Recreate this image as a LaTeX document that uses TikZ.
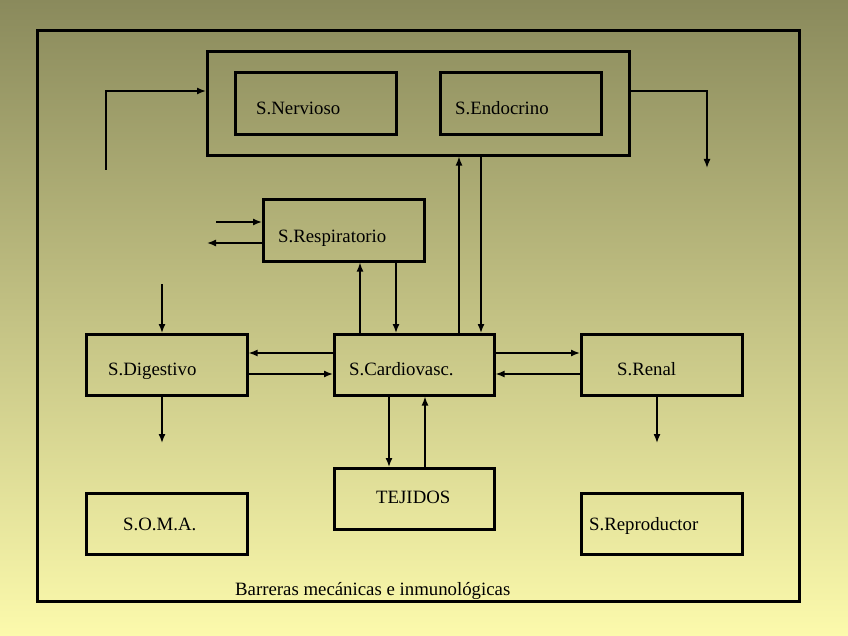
\documentclass[tikz,border=0pt]{standalone}
\usepackage{fontspec}
\setmainfont{Liberation Serif}
\usetikzlibrary{arrows.meta}
\definecolor{bgtop}{RGB}{138,138,92}
\definecolor{bgbot}{RGB}{252,250,172}
\begin{document}
\begin{tikzpicture}[x=1pt,y=-1pt,
  box/.style={draw, line width=2.6pt, inner sep=0pt, anchor=north west},
  lbl/.style={anchor=base west, inner sep=0pt, font=\fontsize{18.8}{22}\selectfont},
  conn/.style={line width=1.4pt, -{Latex[length=9pt,width=7pt]}},
  plainln/.style={line width=1.4pt}]
\shade[top color=bgtop, bottom color=bgbot] (0,0) rectangle (848,636);
\useasboundingbox (0,0) rectangle (848,636);
% boxes
\node[box, minimum width=762pt, minimum height=571pt] (frame) at (36,29) {};
\node[box, minimum width=422pt, minimum height=104pt] (top) at (206,50) {};
\node[box, minimum width=161pt, minimum height=62pt] (nerv) at (234,71) {};
\node[box, minimum width=161pt, minimum height=62pt] (endo) at (439,71) {};
\node[box, minimum width=161pt, minimum height=62pt] (resp) at (262,198) {};
\node[box, minimum width=161pt, minimum height=61pt] (dig) at (85,333) {};
\node[box, minimum width=160pt, minimum height=61pt] (card) at (333,333) {};
\node[box, minimum width=161pt, minimum height=61pt] (ren) at (580,333) {};
\node[box, minimum width=160pt, minimum height=61pt] (tej) at (333,467) {};
\node[box, minimum width=161pt, minimum height=61pt] (soma) at (85,492) {};
\node[box, minimum width=161pt, minimum height=61pt] (repr) at (580,492) {};
% labels
\node[lbl] (tnerv) at (256,115) {S.Nervioso};
\node[lbl] (tendo) at (455,115) {S.Endocrino};
\node[lbl] (tresp) at (278,243) {S.Respiratorio};
\node[lbl] (tdig) at (108,375) {S.Digestivo};
\node[lbl] (tcard) at (349,375) {S.Cardiovasc.};
\node[lbl] (tren) at (617,375) {S.Renal};
\node[lbl] (ttej) at (376,503) {TEJIDOS};
\node[lbl] (tsoma) at (123,530) {S.O.M.A.};
\node[lbl] (trepr) at (589,530) {S.Reproductor};
\node[lbl] (tbar) at (235,595) {Barreras mecánicas e inmunológicas};
% free ends
\coordinate (lfb) at (106,170);
\coordinate (rfb) at (707,168);
\coordinate (rin) at (216,222);
\coordinate (rout) at (207,243);
\coordinate (din) at (162,284);
\coordinate (dout) at (162,443);
\coordinate (renout) at (657,443);
% feedback loops
\draw[conn] (lfb) |- (top.west |- 0,91);
\draw[conn] (top.east |- 0,91) -| (rfb);
% respiratory exchange
\draw[conn] (rin) -- (resp.west |- rin);
\draw[conn] (resp.west |- rout) -- (rout);
% resp - cardio
\draw[conn] (360,0 |- card.north) -- (360,0 |- resp.south);
\draw[conn] (396,0 |- resp.south) -- (396,0 |- card.north);
% top - cardio
\draw[conn] (459,0 |- card.north) -- (459,0 |- top.south);
\draw[conn] (481,0 |- top.south) -- (481,0 |- card.north);
% digestive
\draw[conn] (din) -- (162,0 |- dig.north);
\draw[conn] (162,0 |- dig.south) -- (dout);
\draw[conn] (card.west |- 0,353) -- (dig.east |- 0,353);
\draw[conn] (dig.east |- 0,374) -- (card.west |- 0,374);
% renal
\draw[conn] (card.east |- 0,353) -- (ren.west |- 0,353);
\draw[conn] (ren.west |- 0,374) -- (card.east |- 0,374);
\draw[conn] (657,0 |- ren.south) -- (renout);
% tissues
\draw[conn] (389,0 |- card.south) -- (389,0 |- tej.north);
\draw[conn] (425,0 |- tej.north) -- (425,0 |- card.south);
\end{tikzpicture}
\end{document}
